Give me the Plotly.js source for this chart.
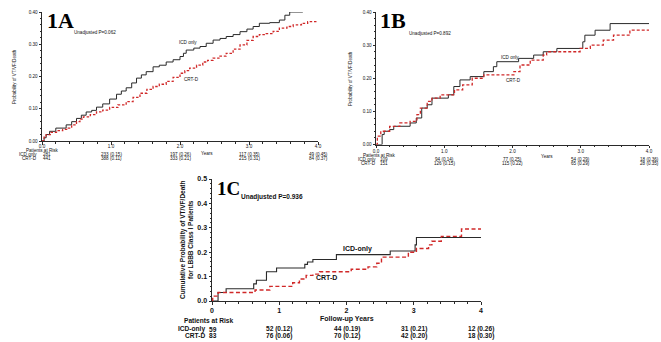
<!DOCTYPE html>
<html><head><meta charset="utf-8">
<script src="https://cdn.plot.ly/plotly-3.0.1.min.js"></script>
<style>html,body{margin:0;padding:0;background:#fff}#chart{width:661px;height:342px}</style>
</head><body><div id="chart"></div>
<script>
// ---- Panel 1A data (years, cumulative probability) ----
const tA_icd = [0,0.03,0.06,0.11,0.2,0.35,0.43,0.5,0.57,0.64,0.72,0.79,0.88,0.98,1.08,1.15,1.22,1.3,1.37,1.44,1.51,1.61,1.7,1.8,1.9,2.0,2.05,2.09,2.2,2.29,2.38,2.48,2.58,2.67,2.77,2.87,2.97,3.06,3.15,3.3,3.44,3.52,3.59,3.78];
const vA_icd = [0,0.01,0.02,0.03,0.04,0.05,0.06,0.07,0.08,0.09,0.095,0.105,0.115,0.13,0.145,0.155,0.165,0.18,0.195,0.205,0.215,0.23,0.235,0.245,0.252,0.262,0.272,0.282,0.288,0.293,0.303,0.313,0.318,0.324,0.33,0.339,0.347,0.355,0.365,0.367,0.375,0.39,0.40,0.40];
const tA_crt = [0,0.03,0.06,0.12,0.21,0.3,0.38,0.43,0.5,0.55,0.6,0.7,0.79,0.88,0.98,1.1,1.22,1.32,1.42,1.52,1.61,1.7,1.8,1.9,2.0,2.07,2.14,2.24,2.33,2.4,2.48,2.58,2.67,2.77,2.87,2.97,3.06,3.15,3.25,3.35,3.44,3.55,3.64,3.76,3.85,4.0];
const vA_crt = [0,0.012,0.02,0.027,0.032,0.036,0.04,0.05,0.06,0.068,0.075,0.082,0.09,0.096,0.104,0.112,0.122,0.135,0.148,0.16,0.169,0.176,0.185,0.197,0.21,0.218,0.226,0.235,0.245,0.25,0.257,0.263,0.272,0.285,0.298,0.312,0.324,0.33,0.333,0.34,0.35,0.355,0.36,0.365,0.37,0.37];
// ---- Panel 1B data ----
const tB_icd = [0,0.09,0.12,0.2,0.26,0.5,0.59,0.67,0.75,0.82,1.06,1.14,1.23,1.38,1.58,1.72,1.77,2.09,2.31,2.45,2.65,3.03,3.06,3.21,3.43,4.0];
const vB_icd = [0,0.03,0.04,0.045,0.055,0.065,0.08,0.11,0.12,0.14,0.15,0.175,0.195,0.205,0.22,0.235,0.25,0.26,0.27,0.28,0.29,0.31,0.33,0.345,0.365,0.365];
const tB_crt = [0,0.02,0.07,0.2,0.35,0.5,0.6,0.65,0.75,0.82,0.94,1.15,1.27,1.41,1.58,2.02,2.11,2.26,2.45,2.5,2.99,3.14,3.33,3.48,3.72,4.0];
const vB_crt = [0,0.025,0.04,0.055,0.065,0.07,0.09,0.11,0.13,0.14,0.15,0.165,0.18,0.2,0.21,0.22,0.24,0.255,0.27,0.28,0.29,0.30,0.315,0.33,0.345,0.345];
// ---- Panel 1C data ----
const tC_icd = [0,0.09,0.21,0.62,0.66,0.81,0.96,1.38,1.42,1.5,1.85,2.65,3.02,3.04,4.0];
const vC_icd = [0,0.035,0.05,0.07,0.085,0.12,0.135,0.15,0.16,0.17,0.19,0.205,0.23,0.26,0.26];
const tC_crt = [0,0.01,0.09,0.64,0.86,1.2,1.3,1.4,1.5,1.6,2.07,2.32,2.45,2.52,2.92,3.04,3.22,3.27,3.41,3.71,4.0];
const vC_crt = [0,0.02,0.035,0.045,0.06,0.075,0.09,0.105,0.11,0.12,0.13,0.14,0.155,0.18,0.20,0.215,0.23,0.245,0.265,0.295,0.295];
// ---- Patients at risk tables ----
const riskYears = [0,1,2,3,4];
const riskA_icd = [281,233,197,117,49], riskA_icdP = [null,0.15,0.26,0.35,0.45];
const riskA_crt = [441,388,333,215,84], riskA_crtP = [null,0.11,0.21,0.31,0.37];
const riskB_icd = [109,94,77,54,18],   riskB_icdP = [null,0.14,0.25,0.29,0.36];
const riskB_crt = [151,126,115,65,28], riskB_crtP = [null,0.15,0.22,0.29,0.35];
const riskC_icd = [59,52,44,31,12],    riskC_icdP = [null,0.12,0.19,0.21,0.26];
const riskC_crt = [83,76,70,42,18],    riskC_crtP = [null,0.06,0.12,0.20,0.30];
const pvals = ['Unadjusted P=0.062','Unadjusted P=0.892','Unadjusted P=0.936'];

const W=661,H=342;
const BLK='#2a2a2a', RED='#d02828';
const SANS='"Liberation Sans", Arial, sans-serif';
const SMALL=4.6;
const py = p => 1 - p/H, px = p => p/W;

function line(t,v,xa,ya,red,w,dash){
  return {x:t,y:v,xaxis:xa,yaxis:ya,type:'scatter',mode:'lines',line:{shape:'hv',color:red?RED:BLK,width:w,dash:red?dash:'solid'},hoverinfo:'skip',showlegend:false};
}
const data = [
  line(tA_icd,vA_icd,'x','y',false,1), line(tA_crt,vA_crt,'x','y',true,1.3,'2.5px,1.8px'),
  line(tB_icd,vB_icd,'x2','y2',false,1), line(tB_crt,vB_crt,'x2','y2',true,1.3,'3px,2px'),
  line(tC_icd,vC_icd,'x3','y3',false,1.1), line(tC_crt,vC_crt,'x3','y3',true,1.4,'4px,2.5px')
];

function xax(dom,anchor,fmt,fs,bold,so){
  return {domain:dom,anchor:anchor,range:[0,4],dtick:1,tick0:0,tickformat:fmt,showgrid:false,zeroline:false,
    showline:true,linecolor:BLK,linewidth:1,ticks:'outside',ticklen:2.5,tickcolor:BLK,ticklabelstandoff:so,
    minor:{dtick:0.2,ticks:'outside',ticklen:1.5,tickcolor:BLK},
    tickfont:{family:SANS,size:fs,color:'#111',weight:bold?'bold':'normal'},fixedrange:true};
}
function yax(dom,anchor,max,dt,fmt,fs,bold){
  return {domain:dom,anchor:anchor,range:[0,max],dtick:dt,tick0:0,tickformat:fmt,showgrid:false,zeroline:false,
    showline:true,linecolor:BLK,linewidth:1,ticks:'outside',ticklen:2.5,tickcolor:BLK,
    minor:{dtick:dt/5,ticks:'outside',ticklen:1.5,tickcolor:BLK},
    tickfont:{family:SANS,size:fs,color:'#111',weight:bold?'bold':'normal'},fixedrange:true};
}

const ann = [];
function txt(text,xref,x,yref,y,o){
  ann.push(Object.assign({text:text,xref:xref,x:x,yref:yref,y:y,showarrow:false,xanchor:'left',yanchor:'middle',borderpad:0,
    font:{family:SANS,size:SMALL,color:'#111'}},o||{}));
}
const fmtP = (n,p) => p==null ? String(n) : n+' ('+Number(p).toFixed(2)+')';
function table(xr,rowsY,labelRightX,firstShift,nums,ps,labels,fs,bold,headY,headX){
  const f = {family:SANS,size:fs,color:'#111',weight:bold?'bold':'normal'};
  txt('Patients at Risk','paper',px(headX),'paper',py(headY),{font:f});
  for(let r=0;r<2;r++){
    txt(labels[r],'paper',px(labelRightX),'paper',py(rowsY[r]),{font:f,xanchor:'right'});
    for(let i=0;i<riskYears.length;i++){
      const s = fmtP(nums[r][i],ps[r][i]);
      if(i===0) txt(s,xr,riskYears[i],'paper',py(rowsY[r]),{font:f,xanchor:'left',xshift:firstShift});
      else txt(s,xr,riskYears[i],'paper',py(rowsY[r]),{font:f,xanchor:'center'});
    }
  }
}
const SERIF='"Liberation Serif", "Times New Roman", serif';
// Panel A texts
txt('1A','paper',px(46),'paper',py(21),{font:{family:SERIF,size:22,color:'#000',weight:'bold'}});
txt(pvals[0],'x',0.45,'y',0.338);
txt('ICD only','x',1.97,'y',0.304);
txt('CRT-D','x',2.05,'y',0.19);
txt('Probability of VT/VF/Death','paper',px(15),'paper',py(77),{textangle:-90,xanchor:'center'});
txt('Years','paper',px(207),'paper',py(154),{xanchor:'center'});
table('x',[154.5,158.8],38,0,[riskA_icd,riskA_crt],[riskA_icdP,riskA_crtP],['ICD only','CRT-D'],SMALL,false,150.2,25);
// Panel B texts
txt('1B','paper',px(379),'paper',py(21),{font:{family:SERIF,size:22,color:'#000',weight:'bold'}});
txt(pvals[1],'x2',0.47,'y2',0.336);
txt('ICD only','x2',1.82,'y2',0.264);
txt('CRT-D','x2',1.89,'y2',0.194);
txt('Probability of VT/VF/Death','paper',px(350),'paper',py(78),{textangle:-90,xanchor:'center'});
txt('Years','paper',px(547),'paper',py(157),{xanchor:'center'});
table('x2',[159.3,163.6],377,3,[riskB_icd,riskB_crt],[riskB_icdP,riskB_crtP],['ICD only','CRT-D'],SMALL,false,155,362);
// Panel C texts
txt('1C','paper',px(216),'paper',py(188),{font:{family:SERIF,size:19,color:'#000',weight:'bold'}});
txt(pvals[2],'x3',0.42,'y3',0.426,{font:{family:SANS,size:6.5,color:'#111',weight:'bold'}});
txt('ICD-only','x3',2.16,'y3',0.213,{xanchor:'center',font:{family:SANS,size:7,color:'#111',weight:'bold'}});
txt('CRT-D','x3',1.7,'y3',0.098,{xanchor:'center',font:{family:SANS,size:7,color:'#111',weight:'bold'}});
txt('Cumulative Probability of VT/VF/Death<br>for LBBB Class I Patients','paper',px(186),'paper',py(240),{textangle:-90,xanchor:'center',font:{family:SANS,size:6.5,color:'#111',weight:'bold'}});
txt('Follow-up Years','paper',px(347),'paper',py(318.5),{xanchor:'center',font:{family:SANS,size:7,color:'#111',weight:'bold'}});
table('x3',[329,335.5],206,-4,[riskC_icd,riskC_crt],[riskC_icdP,riskC_crtP],['ICD-only','CRT-D'],6.6,true,320.5,183);

const layout = {
  width:W,height:H,margin:{l:0,r:0,t:0,b:0},paper_bgcolor:'#fff',plot_bgcolor:'rgba(0,0,0,0)',showlegend:false,
  xaxis: xax([px(42),px(318)],'y','.1f',SMALL,false,-2),
  yaxis: yax([py(141),py(12)],'x',0.4,0.1,'.2f',SMALL,false),
  xaxis2: xax([px(376),px(649)],'y2','.1f',SMALL,false,-1),
  yaxis2: yax([py(144.5),py(12)],'x2',0.4,0.1,'.2f',SMALL,false),
  xaxis3: xax([px(212),px(481)],'y3','d',7,true,0),
  yaxis3: yax([py(301),py(179)],'x3',0.5,0.1,'.1f',7,true),
  annotations: ann
};
Plotly.newPlot('chart',data,layout,{displayModeBar:false,staticPlot:true});
</script></body></html>
